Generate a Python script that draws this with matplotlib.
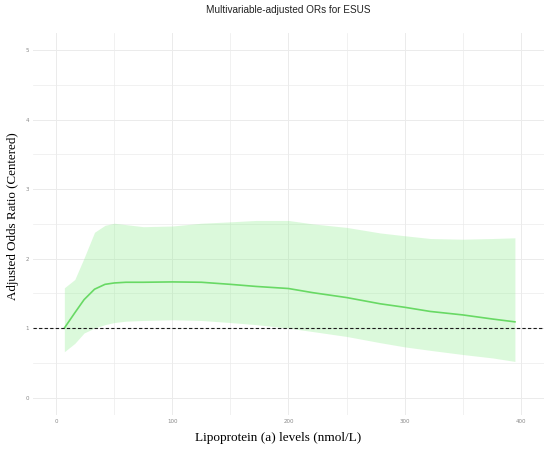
import matplotlib.pyplot as plt
import numpy as np

# 数据
lpa = [7, 16, 24, 33, 42, 50, 60, 75, 100, 125, 150, 172, 200, 221, 250, 279, 300, 322, 350, 376, 395]
or_fit = [1.00, 1.22, 1.41, 1.56, 1.63, 1.65, 1.66, 1.66, 1.665, 1.66, 1.63, 1.60, 1.57, 1.51, 1.44, 1.35, 1.30, 1.24, 1.19, 1.13, 1.09]
or_upper = [1.58, 1.70, 2.01, 2.38, 2.48, 2.51, 2.49, 2.46, 2.47, 2.51, 2.53, 2.55, 2.55, 2.50, 2.45, 2.37, 2.33, 2.29, 2.28, 2.29, 2.30]
or_lower = [0.66, 0.78, 0.93, 1.00, 1.05, 1.08, 1.10, 1.11, 1.12, 1.11, 1.08, 1.05, 1.00, 0.95, 0.88, 0.79, 0.73, 0.68, 0.62, 0.57, 0.52]
x_ticks = [0, 100, 200, 300, 400]
y_ticks = [0, 1, 2, 3, 4, 5]

fig = plt.figure(figsize=(5.5, 4.51), dpi=100)
ax = fig.add_axes([0.06, 0.08, 0.929, 0.847])

# 网格
for v in np.arange(0, 401, 50):
    ax.axvline(v, color='#ebebeb', lw=0.7 if v % 100 == 0 else 0.5, zorder=0)
for v in np.arange(0, 5.01, 0.5):
    ax.axhline(v, color='#ebebeb', lw=0.7 if v % 1 == 0 else 0.5, zorder=0)

ax.fill_between(lpa, or_lower, or_upper, color='#90ee90', alpha=0.32, lw=0, zorder=1)
ax.plot(lpa, or_fit, color='#68d964', lw=1.2, zorder=2)
ax.axhline(1, color='#1a1a1a', lw=0.8, linestyle=(0, (3, 2)), zorder=3)

ax.set_xlim(-20, 420)
ax.set_ylim(-0.25, 5.25)
ax.set_xticks(x_ticks)
ax.set_yticks(y_ticks)
ax.tick_params(length=0, labelsize=4, labelcolor='#888888', pad=3)
for s in ax.spines.values():
    s.set_visible(False)

ax.set_title('Multivariable-adjusted ORs for ESUS', fontsize=7.2, family='Liberation Sans',
             color='#222222', pad=14.5)
ax.set_xlabel('Lipoprotein (a) levels (nmol/L)', family='Liberation Serif', fontsize=9.5)
ax.set_ylabel('Adjusted Odds Ratio (Centered)', family='Liberation Serif', fontsize=9.4)
ax.xaxis.set_label_coords(0.479, -0.046)
ax.yaxis.set_label_coords(-0.027, 0.521)

fig.savefig('out.png', dpi=100)
